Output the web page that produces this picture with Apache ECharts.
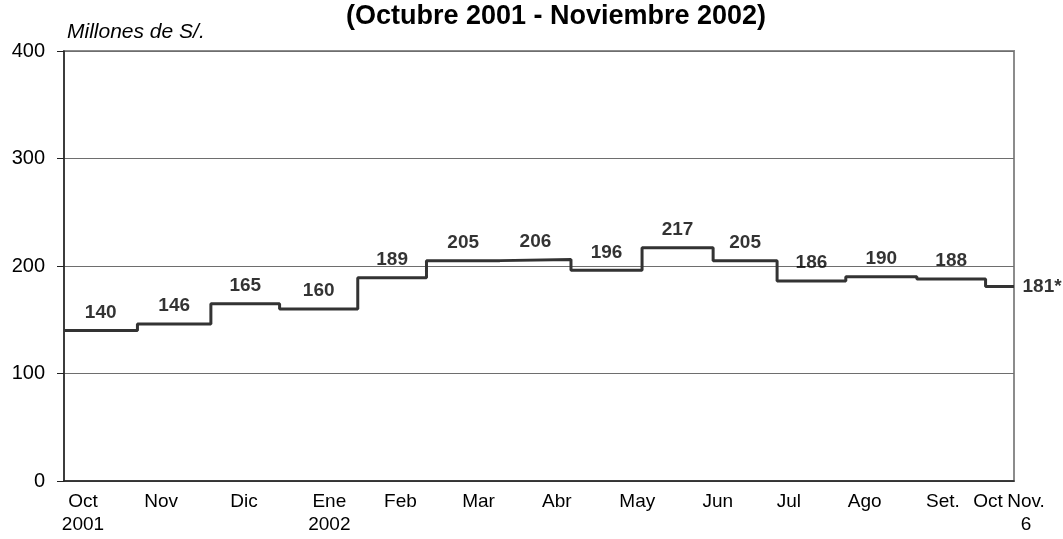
<!DOCTYPE html>
<html>
<head>
<meta charset="utf-8">
<script src="https://cdn.jsdelivr.net/npm/echarts@6/dist/echarts.min.js"></script>
<style>
  html, body { margin: 0; padding: 0; background: #fff; }
  #curve { width: 1063px; height: 539px; }
</style>
</head>
<body>
<div id="curve"></div>
<script>
// día (desde el 1 oct 2001) en que empieza cada tramo, y su valor en millones de S/.
const stepStart = [0, 31, 62, 91, 124, 153, 184, 214, 244, 274, 301, 330, 360, 389]
const stepValue = [140, 146, 165, 160, 189, 205, 206, 196, 217, 205, 186, 190, 188, 181]
const lastDay = 401

// etiquetas del eje x (la última, "Nov. 6", va en el extremo derecho)
const monthDays = [8, 41, 76, 112, 142, 175, 208, 242, 276, 306, 338, 371, 390]
const monthNames = ['Oct\n2001', 'Nov', 'Dic', 'Ene\n2002', 'Feb', 'Mar', 'Abr', 'May', 'Jun', 'Jul', 'Ago', 'Set.', 'Oct']
const endLabel = 'Nov.\n6'

const yTicks = [0, 100, 200, 300, 400]

const font = "'Liberation Sans', Arial, sans-serif"

const lineData = stepStart.map((d, i) => [d, stepValue[i]])
lineData.push([lastDay, stepValue[stepValue.length - 1]])

// etiquetas de valor: centro de cada tramo, la última a la derecha del gráfico
const labelData = stepStart.map((d, i) => {
  const end = i < stepStart.length - 1 ? stepStart[i + 1] : lastDay
  if (i === stepStart.length - 1) {
    return { value: [lastDay, stepValue[i]], label: { position: 'right', distance: 8 } }
  }
  return { value: [(d + end) / 2, stepValue[i]] }
})

const labelText = { color: '#000', fontFamily: font, fontSize: 19, lineHeight: 23 }

const chart = echarts.init(document.getElementById('curve'))

const option = {
  animation: false,
  backgroundColor: '#fff',
  title: [
    {
      text: '(Octubre 2001 - Noviembre 2002)',
      left: 556,
      top: 3,
      padding: 0,
      textAlign: 'center',
      textStyle: { fontFamily: font, fontSize: 27, fontWeight: 'bold', color: '#000' }
    },
    {
      text: 'Millones de S/.',
      left: 67,
      top: 22,
      padding: 0,
      textStyle: { fontFamily: font, fontSize: 21, fontStyle: 'italic', fontWeight: 'normal', color: '#000' }
    }
  ],
  grid: {
    left: 64,
    right: 49,
    top: 51,
    bottom: 58,
    show: true,
    borderColor: '#8c8c8c',
    borderWidth: 2,
    outerBoundsMode: 'none'
  },
  xAxis: [
    {
      type: 'value',
      min: 0,
      max: lastDay,
      splitLine: { show: false },
      axisTick: { show: false },
      axisLine: { show: true, onZero: false, lineStyle: { color: '#222', width: 1.5 } },
      axisLabel: Object.assign({
        customValues: monthDays,
        showMinLabel: true,
        showMaxLabel: true,
        margin: 9,
        formatter: (val) => {
          const i = monthDays.indexOf(val)
          return i < 0 ? '' : monthNames[i]
        }
      }, labelText)
    },
    {
      type: 'value',
      position: 'bottom',
      min: 0,
      max: lastDay,
      splitLine: { show: false },
      axisTick: { show: false },
      axisLine: { show: false },
      axisLabel: Object.assign({
        customValues: [lastDay],
        showMaxLabel: true,
        margin: 9,
        formatter: () => endLabel.split('\n').map(s => '{shift|' + s + '}').join('\n'),
        rich: { shift: Object.assign({ padding: [0, 0, 0, 24] }, labelText) }
      }, labelText)
    }
  ],
  yAxis: {
    type: 'value',
    min: yTicks[0],
    max: yTicks[yTicks.length - 1],
    interval: 100,
    axisLine: { show: true, lineStyle: { color: '#222', width: 1.5 } },
    axisTick: { show: true, length: 7, lineStyle: { color: '#222' } },
    axisLabel: { margin: 19, color: '#000', fontFamily: font, fontSize: 20 },
    splitLine: { lineStyle: { color: '#6e6e6e', width: 1 } }
  },
  series: [
    {
      type: 'line',
      step: 'end',
      data: lineData,
      symbol: 'none',
      lineStyle: { color: '#333', width: 3 },
      silent: true
    },
    {
      type: 'scatter',
      data: labelData,
      symbolSize: 1,
      itemStyle: { color: 'rgba(0,0,0,0)' },
      silent: true,
      label: {
        show: true,
        position: 'top',
        distance: 8,
        color: '#000',
        fontFamily: font,
        fontSize: 19,
        fontWeight: 'bold',
        formatter: (p) => p.dataIndex === stepValue.length - 1 ? p.value[1] + '*' : String(p.value[1])
      }
    }
  ]
}

chart.setOption(option)
</script>
</body>
</html>
